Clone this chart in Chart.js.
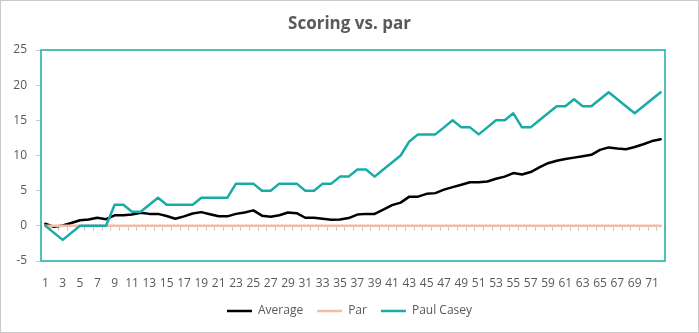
<!DOCTYPE html>
<html>
<head>
<meta charset="utf-8">
<title>Scoring vs. par</title>
<script src="https://cdn.jsdelivr.net/npm/chart.js@4/dist/chart.umd.min.js"></script>
<style>
  html, body { margin: 0; padding: 0; background: #ffffff; }
  #wrap { position: relative; width: 699px; height: 333px; }
  #frame { position: absolute; left: 0; top: 0; width: 699px; height: 333px; box-sizing: border-box; border: 1px solid #c9c9c9; pointer-events: none; }
  canvas { display: block; }
</style>
</head>
<body>
<div id="wrap">
  <canvas id="chart" width="699" height="333"></canvas>
  <div id="frame"></div>
</div>
<script>
// Holes played across the four rounds
const holes = [
  '1','2','3','4','5','6','7','8','9','10','11','12','13','14','15','16','17','18',
  '19','20','21','22','23','24','25','26','27','28','29','30','31','32','33','34','35','36',
  '37','38','39','40','41','42','43','44','45','46','47','48','49','50','51','52','53','54',
  '55','56','57','58','59','60','61','62','63','64','65','66','67','68','69','70','71','72'
];

// Field average, cumulative strokes vs. par
const average = [
  0.3, -0.15, 0.05, 0.4, 0.8, 0.9, 1.15, 0.95, 1.5, 1.5, 1.6, 1.85, 1.7, 1.7, 1.4, 1.0, 1.35, 1.75,
  1.95, 1.65, 1.35, 1.35, 1.7, 1.9, 2.2, 1.45, 1.3, 1.5, 1.9, 1.8, 1.15, 1.15, 1.0, 0.85, 0.9, 1.1,
  1.6, 1.7, 1.7, 2.3, 2.95, 3.3, 4.15, 4.15, 4.55, 4.65, 5.15, 5.5, 5.85, 6.2, 6.2, 6.3, 6.7, 7.0,
  7.5, 7.3, 7.65, 8.3, 8.9, 9.25, 9.5, 9.7, 9.9, 10.1, 10.8, 11.15, 11.0, 10.9, 11.2, 11.6, 12.05, 12.3
];

// Level par
const par = [
  0, 0, 0, 0, 0, 0, 0, 0, 0, 0, 0, 0, 0, 0, 0, 0, 0, 0,
  0, 0, 0, 0, 0, 0, 0, 0, 0, 0, 0, 0, 0, 0, 0, 0, 0, 0,
  0, 0, 0, 0, 0, 0, 0, 0, 0, 0, 0, 0, 0, 0, 0, 0, 0, 0,
  0, 0, 0, 0, 0, 0, 0, 0, 0, 0, 0, 0, 0, 0, 0, 0, 0, 0
];

// Paul Casey, cumulative strokes vs. par
const paulCasey = [
  0, -1, -2, -1, 0, 0, 0, 0, 3, 3, 2, 2, 3, 4, 3, 3, 3, 3,
  4, 4, 4, 4, 6, 6, 6, 5, 5, 6, 6, 6, 5, 5, 6, 6, 7, 7,
  8, 8, 7, 8, 9, 10, 12, 13, 13, 13, 14, 15, 14, 14, 13, 14, 15, 15,
  16, 14, 14, 15, 16, 17, 17, 18, 17, 17, 18, 19, 18, 17, 16, 17, 18, 19
];

// Value axis range and step
const yMin = -5;
const yMax = 25;
const yStep = 5;

const TEAL = '#19aba7';
const TEXT = '#595959';
const FONT = "'Open Sans', 'Noto Sans', sans-serif";

// Plot-area frame plus the small category tick marks hanging below the zero line
const plotFrame = {
  id: 'plotFrame',
  beforeDatasetsDraw(chart) {
    const { ctx, chartArea: a, scales: { x, y } } = chart;
    const y0 = y.getPixelForValue(0);
    const step = x.getPixelForValue(1) - x.getPixelForValue(0);
    ctx.save();
    ctx.strokeStyle = '#c8c8c8';
    ctx.lineWidth = 1;
    for (let i = 0; i <= holes.length; i++) {
      const px = Math.round(x.getPixelForValue(i) - step / 2) + 0.5;
      ctx.beginPath();
      ctx.moveTo(px, y0);
      ctx.lineTo(px, y0 + 5);
      ctx.stroke();
    }
    ctx.strokeStyle = TEAL;
    ctx.lineWidth = 1.5;
    ctx.strokeRect(a.left, a.top, a.right - a.left, a.bottom - a.top);
    ctx.restore();
  }
};

new Chart(document.getElementById('chart'), {
  type: 'line',
  data: {
    labels: holes,
    datasets: [
      { label: 'Average', data: average, borderColor: '#000000', backgroundColor: '#000000', borderWidth: 2.5, order: 3 },
      { label: 'Par', data: par, borderColor: '#f5b9a8', backgroundColor: '#f5b9a8', borderWidth: 2.5, order: 2 },
      { label: 'Paul Casey', data: paulCasey, borderColor: TEAL, backgroundColor: TEAL, borderWidth: 2.5, order: 1 }
    ]
  },
  options: {
    responsive: false,
    animation: false,
    devicePixelRatio: 1,
    layout: { padding: { left: 0, right: 0, top: 0, bottom: 6 } },
    elements: {
      point: { radius: 0, hoverRadius: 0 },
      line: { tension: 0, borderCapStyle: 'round', borderJoinStyle: 'round' }
    },
    plugins: {
      title: {
        display: true,
        text: 'Scoring vs. par',
        color: TEXT,
        font: { family: FONT, size: 17, weight: 'bold' },
        padding: { top: 14, bottom: 15.6 }
      },
      legend: {
        position: 'bottom',
        labels: {
          usePointStyle: true,
          pointStyle: 'line',
          pointStyleWidth: 25,
          padding: 14,
          color: TEXT,
          font: { family: FONT, size: 12 },
          sort: (a, b) => a.datasetIndex - b.datasetIndex
        }
      },
      tooltip: { enabled: false }
    },
    scales: {
      x: {
        type: 'category',
        offset: true,
        grid: { display: false, drawTicks: false },
        border: { display: false },
        ticks: {
          autoSkip: false,
          maxRotation: 0,
          padding: 15,
          color: TEXT,
          font: { family: FONT, size: 12 },
          callback: function (value, index) {
            return index % 2 === 0 ? this.getLabelForValue(value) : '';
          }
        },
        afterFit(scale) { scale.height = 30; }
      },
      y: {
        min: yMin,
        max: yMax,
        grid: { drawOnChartArea: false, drawTicks: true, tickLength: 5, color: '#c8c8c8' },
        border: { display: false },
        ticks: {
          stepSize: yStep,
          padding: 9,
          color: TEXT,
          font: { family: FONT, size: 12 }
        },
        afterFit(scale) { scale.width = 41; }
      },
      // empty right-hand margin so the plot stops short of the canvas edge
      gutter: {
        position: 'right',
        grid: { display: false, drawTicks: false },
        border: { display: false },
        ticks: { display: false },
        afterFit(scale) { scale.width = 34; }
      }
    }
  },
  plugins: [plotFrame]
});
</script>
</body>
</html>
